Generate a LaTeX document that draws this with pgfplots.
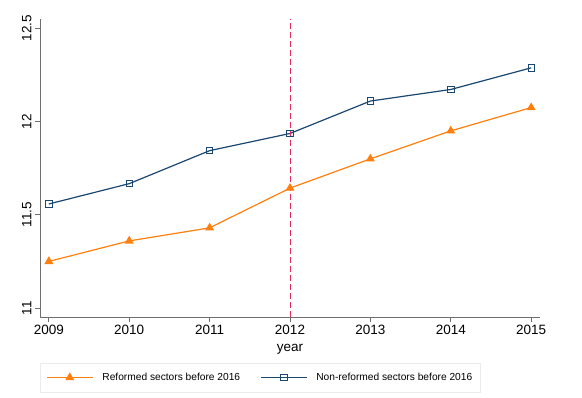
\documentclass[border=0pt]{standalone}
\usepackage{fontspec}
\setmainfont{Liberation Sans}
\usepackage{pgfplots}
\pgfplotsset{compat=1.18}
\definecolor{stnavy}{RGB}{26,71,111}
\definecolor{storange}{RGB}{255,127,14}
\definecolor{stred}{RGB}{225,45,95}
\definecolor{axgray}{RGB}{110,110,110}
\begin{document}
\begin{tikzpicture}[x=1pt,y=1pt]
\path[use as bounding box] (0,0) rectangle (582,398);
\begin{axis}[
  at={(40pt,81pt)}, anchor=south west,
  scale only axis, width=500pt, height=298pt,
  xmin=2008.89, xmax=2015.11,
  ymin=10.952, ymax=12.55,
  axis x line*=bottom, axis y line*=left,
  axis line style={axgray, line width=0.9pt, -},
  xtick={2009,2010,2011,2012,2013,2014,2015},
  xticklabels={2009,2010,2011,2012,2013,2014,2015},
  ytick={11,11.5,12,12.5},
  yticklabels={11,11.5,12,12.5},
  tick align=outside, major tick length=5pt,
  tick style={axgray, line width=0.8pt},
  ticklabel style={font=\fontsize{13.5}{14}\selectfont},
  yticklabel style={rotate=90, anchor=south},
  xlabel={year}, xlabel style={font=\fontsize{13.5}{14}\selectfont, yshift=-2pt},
  legend columns=2,
  legend style={at={(0,-0.154)}, anchor=north west, draw=black!8, fill=white,
     font=\fontsize{10.2}{12}\selectfont, inner xsep=6pt, inner ysep=8pt,
     /tikz/every odd column/.append style={column sep=7pt},
     /tikz/every even column/.append style={column sep=18pt}},
  legend cell align=left,
  legend image code/.code={
    \draw[#1, line width=1.2pt] (0pt,0pt) -- (46pt,0pt);
    \draw[#1, solid] plot coordinates {(23pt,0pt)};
  },
]
\addplot[storange, line width=1.2pt, mark=triangle*, mark size=4pt, mark options={fill=storange}]
  coordinates {(2009,11.25) (2010,11.36) (2011,11.43) (2012,11.643) (2013,11.80) (2014,11.95) (2015,12.075)};
\addlegendentry{Reformed sectors before 2016}
\addplot[stnavy, line width=1.2pt, mark=square, mark size=3.2pt, mark options={line width=0.9pt, fill=white}]
  coordinates {(2009,11.558) (2010,11.667) (2011,11.844) (2012,11.936) (2013,12.11) (2014,12.172) (2015,12.288)};
\addlegendentry{Non-reformed sectors before 2016}
\addplot[stred, line width=0.9pt, dash pattern=on 6pt off 3pt, forget plot]
  coordinates {(2012,10.952) (2012,12.55)};
\end{axis}
\end{tikzpicture}
\end{document}
